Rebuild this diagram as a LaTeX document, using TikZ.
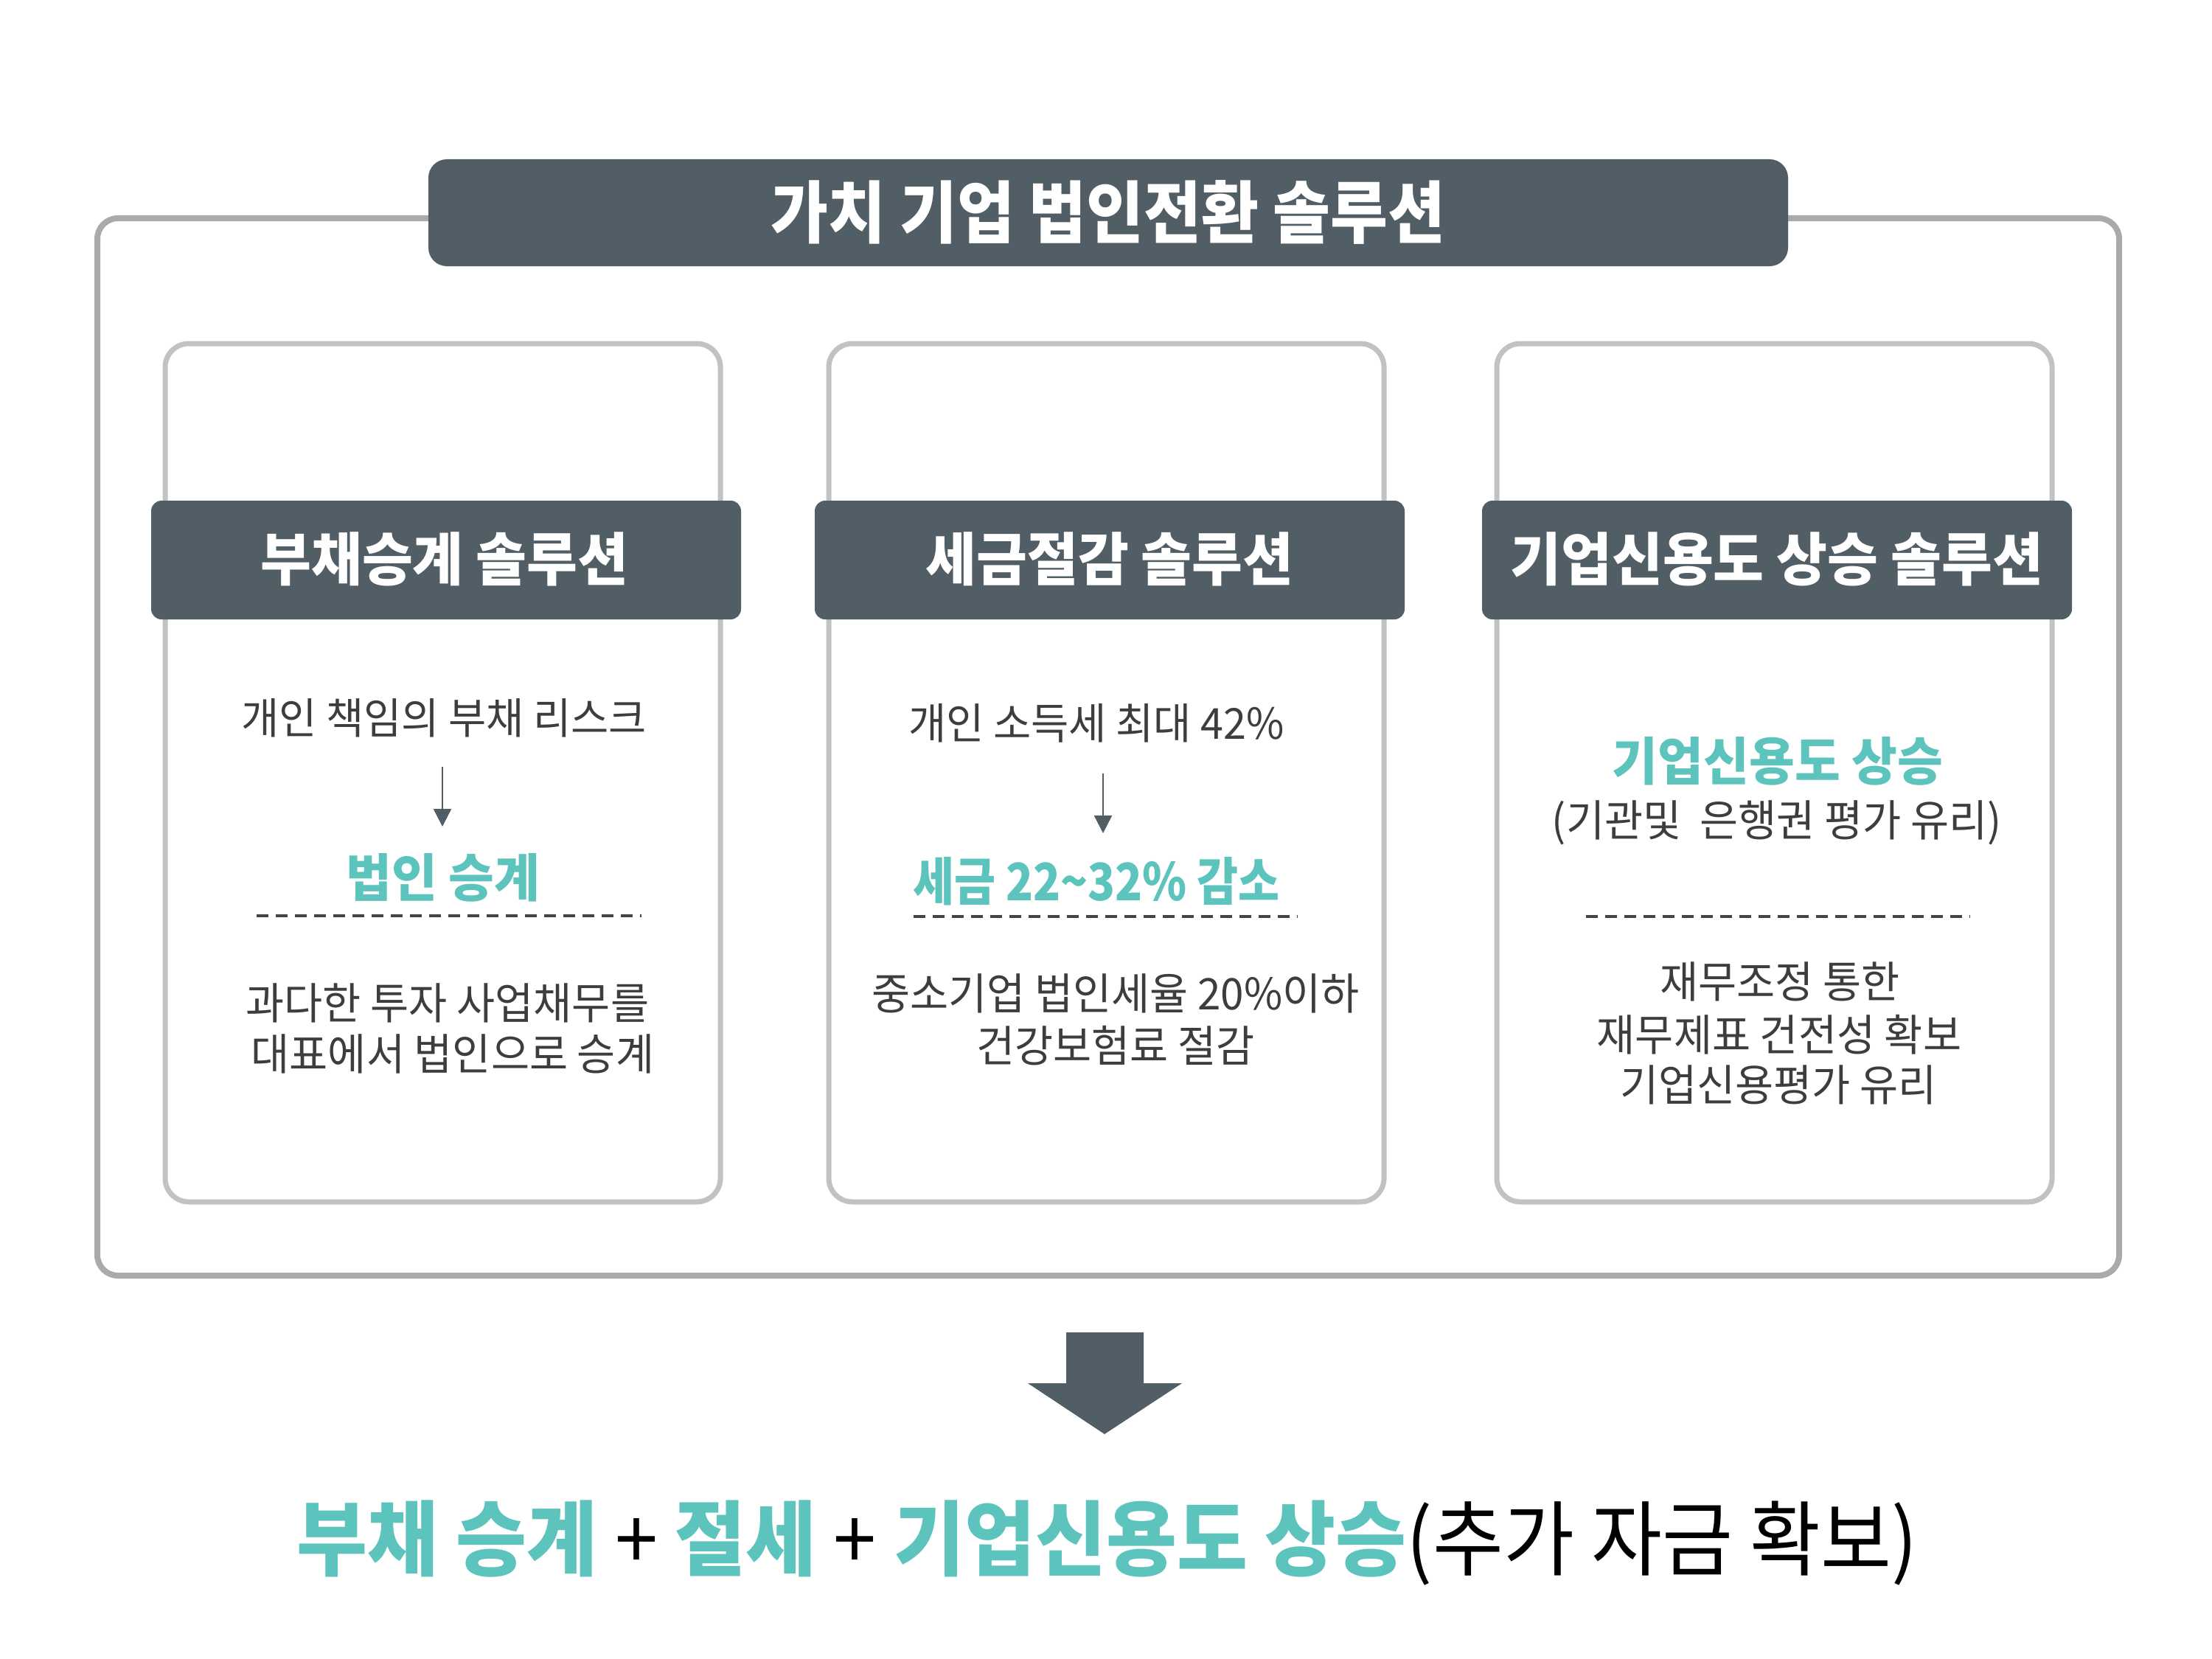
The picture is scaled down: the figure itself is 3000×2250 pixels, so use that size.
\documentclass[tikz,border=0pt]{standalone}
\usepackage{fontspec}
\newfontfamily\kr{Noto Sans CJK KR}[FakeStretch=0.96]
\newfontfamily\krt{Noto Sans CJK KR}[FakeStretch=0.92]
\newfontfamily\krb{Noto Sans CJK KR}[FakeStretch=0.94]
\newfontfamily\krn{Noto Sans CJK KR}[FakeStretch=0.87]
\usetikzlibrary{arrows.meta}
\definecolor{slate}{HTML}{525E66}
\definecolor{tealc}{HTML}{5CC4BD}
\definecolor{bodytxt}{HTML}{3D3D3D}
\definecolor{outerc}{HTML}{AAAAAA}
\definecolor{innerc}{HTML}{C2C2C2}
\definecolor{dashc}{HTML}{444444}
\newcommand\fsz[1]{\fontsize{#1pt}{#1pt}\selectfont}
\tikzset{
  outerbox/.style={draw=outerc, line width=8pt, rounded corners=28pt},
  innerbox/.style={draw=innerc, line width=7pt, rounded corners=32pt, fill=white},
  barbox/.style={fill=slate, rounded corners=14pt},
  titlebar/.style={fill=slate, rounded corners=25pt},
  txt/.style={inner sep=0pt, anchor=base},
  titletxt/.style={txt, text=white, font=\krt\bfseries\fsz{92}},
  headtxt/.style={txt, text=white, font=\kr\bfseries\fsz{78}},
  leadtxt/.style={txt, text=bodytxt, font=\kr\fsz{58}},
  keytxt/.style={txt, text=tealc, font=\kr\bfseries\fsz{70}},
  bodyt/.style={txt, text=bodytxt, font=\kr\fsz{59}},
  smallarrow/.style={draw=slate, line width=2.5pt, -{Triangle[width=24pt,length=24pt]}},
  dashline/.style={draw=dashc, line width=4.5pt, dash pattern=on 16pt off 10pt},
}
\begin{document}
\begin{tikzpicture}[x=1pt,y=-1pt]
\useasboundingbox (0,0) rectangle (3000,2250);
\fill[white] (0,0) rectangle (3000,2250);

% outer frame and title
\draw[outerbox] (132,296) rectangle (2874,1730);
\fill[titlebar] (581,216) rectangle (2425,361);
\node[titletxt] (title) at (1503,322) {가치 기업 법인전환 솔루션};

% inner boxes
\draw[innerbox] (224,466) rectangle (977,1630);
\draw[innerbox] (1124,466) rectangle (1877,1630);
\draw[innerbox] (2030,466) rectangle (2783,1630);

% header bars
\fill[barbox] (205,679) rectangle (1005,840);
\fill[barbox] (1105,679) rectangle (1905,840);
\fill[barbox] (2010,679) rectangle (2810,840);
\node[headtxt] (h1) at (603,787) {부채승계 솔루션};
\node[headtxt] (h2) at (1505,787) {세금절감 솔루션};
\node[headtxt] (h3) at (2410,787) {기업신용도 상승 솔루션};

% box 1
\node[leadtxt] (l1) at (602,995) {개인 책임의 부채 리스크};
\coordinate (a1s) at (600,1040);
\coordinate (a1e) at (600,1121);
\draw[smallarrow] (a1s) -- (a1e);
\node[keytxt] (k1) at (601,1216) {법인 승계};
\coordinate (d1a) at (348,1242);
\coordinate (d1b) at (870,1242);
\draw[dashline] (d1a) -- (d1b);
\node[bodyt] (b1a) at (607,1382) {과다한 투자 사업채무를};
\node[bodyt] (b1b) at (614,1451) {대표에서 법인으로 승계};

% box 2
\node[leadtxt] (l2) at (1487,1002) {개인 소득세 최대 42\%};
\coordinate (a2s) at (1496,1049);
\coordinate (a2e) at (1496,1130);
\draw[smallarrow] (a2s) -- (a2e);
\node[keytxt, font=\krn\bfseries\fsz{70}] (k2) at (1487,1221) {세금 22\char`\~32\% 감소};
\coordinate (d2a) at (1239,1243);
\coordinate (d2b) at (1760,1243);
\draw[dashline] (d2a) -- (d2b);
\node[bodyt] (b2a) at (1513,1369) {중소기업 법인세율 20\%이하};
\node[bodyt] (b2b) at (1513,1440) {건강보험료 절감};

% box 3
\node[keytxt] (k3) at (2411,1058) {기업신용도 상승};
\node[bodyt] (p3) at (2410,1134) {(기관및\ \ 은행권 평가 유리)};
\coordinate (d3a) at (2151,1243);
\coordinate (d3b) at (2672,1243);
\draw[dashline] (d3a) -- (d3b);
\node[bodyt] (b3a) at (2414,1353) {재무조정 통한};
\node[bodyt] (b3b) at (2413,1425) {재무제표 건전성 확보};
\node[bodyt] (b3c) at (2412,1493) {기업신용평가 유리};

% big arrow
\fill[slate] (1446,1807) -- (1551,1807) -- (1551,1876) -- (1603,1876) -- (1498,1945) -- (1394,1876) -- (1446,1876) -- cycle;

% result line
\node[txt, text=black, font=\krb\fsz{111}] (res) at (1502,2128)
  {{\color{tealc}\bfseries 부채 승계} + {\color{tealc}\bfseries 절세} + {\color{tealc}\bfseries 기업신용도 상승}(추가 자금 확보)};
\end{tikzpicture}
\end{document}
